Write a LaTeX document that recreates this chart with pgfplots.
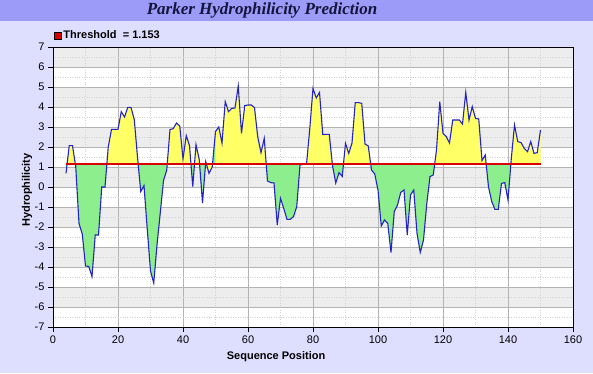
\documentclass[border=0pt]{standalone}
\usepackage{pgfplots}
\pgfplotsset{compat=1.18}
\usepgfplotslibrary{fillbetween}
\usepackage{fontspec}
\setmainfont{Liberation Sans}
\newfontfamily\titlefont{Liberation Serif}
\definecolor{bg}{HTML}{DEDEFF}
\definecolor{titlebg}{HTML}{9C9CF8}
\definecolor{titletext}{HTML}{14143C}
\definecolor{band}{HTML}{EDEDED}
\definecolor{gridgray}{HTML}{B4B4B4}
\definecolor{fillyellow}{HTML}{FFFF66}
\definecolor{fillgreen}{HTML}{8CEE8C}
\definecolor{curveblue}{HTML}{2424C0}
\definecolor{thrred}{HTML}{D80000}
\pgfplotsset{
 layers/my layers/.define layer set={picbg,axis background,axis fills,axis grid,axis ticks,axis lines,axis tick labels,pre main,main,axis descriptions,axis foreground}{
   grid style={/pgfplots/on layer=axis grid},
   tick style={/pgfplots/on layer=axis ticks},
   axis line style={/pgfplots/on layer=axis lines},
   label style={/pgfplots/on layer=axis descriptions},
   legend style={/pgfplots/on layer=axis descriptions},
   title style={/pgfplots/on layer=axis descriptions},
   colorbar style={/pgfplots/on layer=axis descriptions},
   ticklabel style={/pgfplots/on layer=axis tick labels},
   axis background@ style={/pgfplots/on layer=axis background},
   3d box foreground style={/pgfplots/on layer=axis foreground},
 },
}
\pgfplotstableread{
x y
4 0.68
5 2.07
6 2.07
7 1.0
8 -1.82
9 -2.35
10 -3.95
11 -3.97
12 -4.48
13 -2.4
14 -2.4
15 0.0
16 0.0
17 2.0
18 2.88
19 2.88
20 2.88
21 3.77
22 3.5
23 3.98
24 3.98
25 3.38
26 1.5
27 -0.23
28 0.07
29 -2.1
30 -4.2
31 -4.8
32 -2.9
33 -1.3
34 0.32
35 0.85
36 2.87
37 2.92
38 3.2
39 3.05
40 1.4
41 2.57
42 2.07
43 0.02
44 2.12
45 1.37
46 -0.8
47 1.27
48 0.68
49 1.0
50 2.77
51 3.0
52 2.2
53 4.27
54 3.77
55 3.93
56 3.95
57 5.05
58 2.68
59 4.07
60 4.1
61 4.1
62 3.97
63 2.5
64 1.72
65 2.43
66 0.3
67 0.22
68 0.2
69 -1.9
70 -0.57
71 -1.07
72 -1.62
73 -1.62
74 -1.48
75 -0.98
76 1.1
77 1.13
78 1.13
79 2.9
80 4.93
81 4.45
82 4.73
83 2.63
84 2.63
85 2.63
86 1.08
87 0.2
88 0.72
89 0.53
90 2.18
91 1.68
92 2.2
93 4.22
94 4.22
95 4.18
96 2.15
97 2.05
98 0.85
99 0.65
100 -0.15
101 -1.95
102 -1.65
103 -1.82
104 -3.28
105 -1.23
106 -0.9
107 -0.27
108 -0.15
109 -2.4
110 -0.4
111 -0.15
112 -2.32
113 -3.27
114 -2.65
115 -0.85
116 0.52
117 0.6
118 1.85
119 4.27
120 2.68
121 2.52
122 2.2
123 3.35
124 3.35
125 3.35
126 3.15
127 4.73
128 3.35
129 4.02
130 3.43
131 3.4
132 1.32
133 1.6
134 0.0
135 -0.73
136 -1.12
137 -1.12
138 0.18
139 0.22
140 -0.65
141 1.4
142 3.1
143 2.27
144 2.22
145 1.93
146 1.77
147 2.27
148 1.68
149 1.72
150 2.85
}\hydro
\begin{document}
\begin{tikzpicture}[x=1pt,y=1pt]
\pgfplotsset{set layers=my layers}
\begin{axis}[
 at={(53pt,46pt)}, anchor=south west, scale only axis,
 width=520pt, height=280pt,
 xmin=0, xmax=160, ymin=-7, ymax=7,
 xtick={0,20,...,160}, ytick={-7,-6,...,7},
 minor xtick={10,30,...,150},
 minor ytick={-6.5,-5.5,...,6.5},
 grid=both,
 major grid style={draw=gridgray, line width=0.6pt},
 minor grid style={draw=gridgray!60, dotted, line width=0.5pt},
 tick align=outside, xtick pos=left, ytick pos=left,
 major tick length=5pt, minor tick length=0pt,
 tick style={black, line width=0.6pt},
 axis line style={black, line width=0.8pt},
 axis background/.style={fill=white},
 ticklabel style={font=\fontsize{11}{12}\selectfont},
 /pgf/number format/assume math mode=true,
 xlabel={Sequence Position}, ylabel={Hydrophilicity},
 label style={font=\bfseries\fontsize{11}{13}\selectfont},
 xlabel style={at={(axis description cs:0.429,0)}, anchor=center, yshift=-30pt},
 ylabel style={at={(axis description cs:-0.05,0.489)}, anchor=center},
 legend style={at={(axis description cs:0,1)}, anchor=south west, draw=none, fill=none,
   inner sep=0pt, outer sep=0pt, yshift=5pt, xshift=1pt,
   font=\bfseries\fontsize{11}{13}\selectfont},
 legend image code/.code={\fill[thrred, draw=black, line width=0.5pt] (0pt,-3.5pt) rectangle (7pt,3.5pt);},
]
\begin{pgfonlayer}{axis fills}
\pgfplotsinvokeforeach{-6,-4,-2,0,2,4,6}{
  \fill[band] (axis cs:0,#1) rectangle (axis cs:160,#1+1);
}
\end{pgfonlayer}
% curve pieces for the fills
\addplot[name path=cA, draw=none, forget plot, restrict x to domain=4:46] table[x=x,y=y] {\hydro};
\addplot[name path=cC, draw=none, forget plot, restrict x to domain=46:50] table[x=x,y=y] {\hydro};
\addplot[name path=cB, draw=none, forget plot, restrict x to domain=50:150] table[x=x,y=y] {\hydro};
\addplot[name path=tA, draw=none, forget plot] coordinates {(4,1.153) (46,1.153)};
\addplot[name path=tC, draw=none, forget plot] coordinates {(46,1.153) (50,1.153)};
\addplot[name path=tB, draw=none, forget plot] coordinates {(50,1.153) (150,1.153)};
\addplot[fill=fillgreen, draw=none, on layer=axis fills, forget plot] fill between[of=cA and tA, split,
  every even segment/.style={fill=fillgreen},
  every odd segment/.style={fill=fillyellow}];
\addplot[fill=fillgreen, draw=none, on layer=axis fills, forget plot] fill between[of=cC and tC, split,
  every even segment/.style={fill=fillgreen},
  every odd segment/.style={fill=fillyellow}];
\addplot[fill=fillyellow, draw=none, on layer=axis fills, forget plot] fill between[of=cB and tB, split,
  every even segment/.style={fill=fillyellow},
  every odd segment/.style={fill=fillgreen}];
\addplot[curveblue, line width=1.1pt, forget plot] table[x=x,y=y] {\hydro};
\addplot[thrred, line width=1.8pt] coordinates {(4,1.153) (150,1.153)};
\addlegendentry{Threshold\ \ = 1.153}
\end{axis}
\begin{pgfonlayer}{picbg}
\fill[bg] (0,0) rectangle (593,373);
\fill[titlebg] (0,352) rectangle (593,373);
\end{pgfonlayer}
\node[font=\titlefont\bfseries\itshape\fontsize{17}{20}\selectfont, text=titletext] at (262,362.5) {Parker Hydrophilicity Prediction};
\pgfresetboundingbox
\useasboundingbox (0,0) rectangle (593,373);
\end{tikzpicture}
\end{document}
